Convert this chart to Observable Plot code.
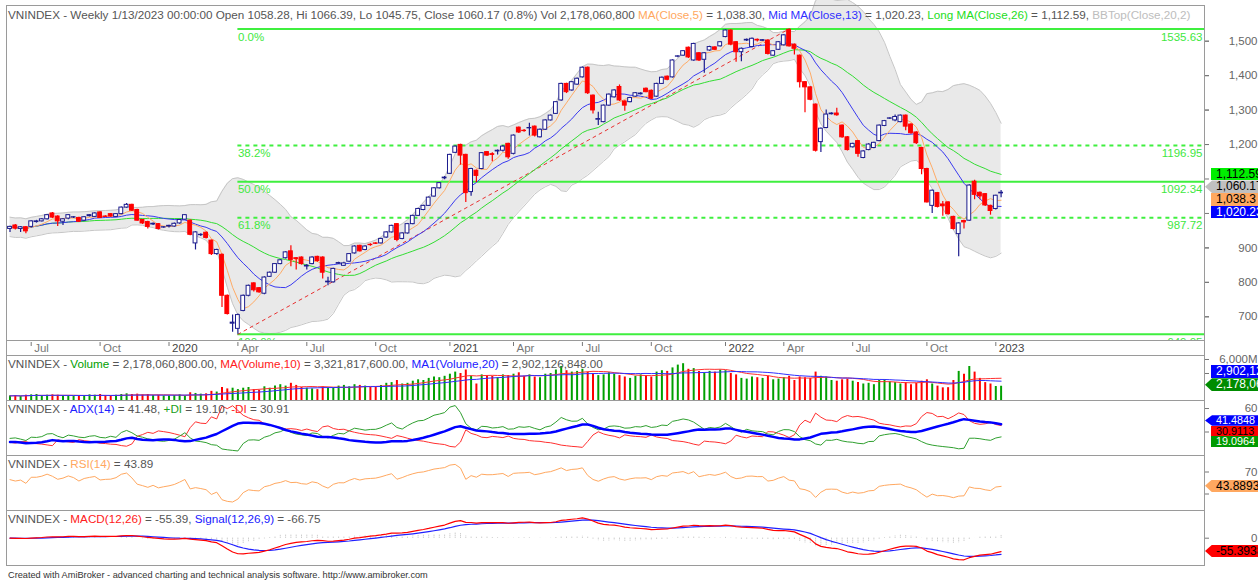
<!DOCTYPE html>
<html><head><meta charset="utf-8">
<script src="https://cdn.jsdelivr.net/npm/d3@7"></script>
<script src="https://cdn.jsdelivr.net/npm/@observablehq/plot@0.6"></script>
<style>
body{margin:0;background:#fff;}
#wrap{position:relative;width:1258px;height:580px;overflow:hidden;background:#fff;font-family:"Liberation Sans",Arial,sans-serif;}
.pnl{position:absolute;left:0;}
.hdr{position:absolute;left:8px;font-size:11.7px;color:#555;white-space:nowrap;line-height:13px;}
.tag{position:absolute;font-size:12px;white-space:nowrap;padding-left:5px;width:60px;}
.arr{clip-path:polygon(0 50%,7px 0,100% 0,100% 100%,7px 100%);padding-left:11px;}
</style></head><body><div id="wrap"></div>
<script>
// ---------- DATA (weekly bars, Jun 7 2019 .. Jan 13 2023) ----------
const open = [955,965,955,960,961,975,977,983,1000,991,976,985,988,987,979,992,990,1003,991,998,990,998,1017,1025,1010,981,975,968,969,959,
962,962,971,982,979,913,937,944,921,882,880,761,680,665,717,761,797,783,767,816,828,853,870,890,870,872,846,853,874,872,800,800,854,848,860,884,906,894,909,913,
913,930,945,969,926,942,969,993,1010,1022,1049,1073,1102,1115,1176,1199,1170,1062,1124,1129,1178,1172,1180,1182,1202,1173,1249,1240,1247,1252,1221,1243,1270,1289,1328,1376,1357,1374,1395,1423,
1342,1272,1265,1313,1337,1367,1325,1323,1339,1346,1362,1356,1339,1376,1397,1395,1455,1458,1481,1444,1465,1446,1473,1482,1485,1512,1531,1497,1468,1502,1483,1504,1501,1502,1458,1475,1488,1533,1490,1458,
1381,1366,1316,1207,1248,1288,1290,1255,1221,1192,1210,1161,1184,1190,1210,1254,1275,1270,1265,1284,1258,1235,1190,1129,1022,1059,1026,1032,990,940,978,979,1092,1060,1056,1022,1013,1058.28];
const close = [961,956,960,948,977,977,983,995,988,977,983,995,989,976,989,995,1000,987,990,991,998,1017,1025,1008,979,971,961,970,955,960,
964,970,981,995,938,945,938,929,882,894,761,708,683,705,761,790,777,771,814,828,853,864,887,865,868,853,848,872,862,828,802,839,856,855,882,904,890,904,908,912,
926,945,964,923,942,969,993,1013,1022,1046,1073,1088,1104,1170,1194,1168,1059,1129,1109,1175,1168,1170,1182,1194,1163,1226,1235,1239,1248,1226,1243,1270,1284,1323,1376,1352,1381,1391,1423,1349,
1299,1274,1313,1345,1357,1328,1313,1335,1349,1348,1352,1333,1376,1394,1388,1444,1456,1471,1453,1492,1444,1465,1483,1475,1497,1531,1490,1468,1478,1504,1507,1502,1503,1463,1471,1497,1517,1485,1478,1381,
1366,1330,1182,1246,1287,1290,1285,1221,1184,1202,1173,1180,1200,1205,1255,1268,1276,1280,1284,1252,1233,1204,1129,1032,1066,1019,1021,998,955,971,974,1081,1054,1049.5,1023.3,1007.09,1051.44,1060.17];
const high = [963,968,962,962,979,980,985,997,1003,993,985,997,991,989,991,997,1002,1005,993,1000,1000,1019,1029,1027,1012,983,977,972,971,962,
966,972,983,997,981,947,941,946,923,896,882,763,705,708,763,792,799,785,816,830,855,866,889,906,872,874,852,874,876,874,815,841,858,858,884,906,908,906,912,915,
928,947,966,971,944,971,995,1015,1024,1048,1075,1090,1107,1172,1196,1201,1172,1131,1126,1177,1180,1176,1184,1197,1204,1228,1251,1244,1262,1254,1245,1272,1286,1325,1378,1378,1383,1393,1425,1425,
1344,1294,1315,1347,1359,1373,1327,1337,1351,1350,1364,1358,1378,1396,1399,1446,1458,1473,1483,1494,1467,1467,1485,1484,1499,1533,1533,1499,1480,1506,1509,1506,1505,1504,1473,1499,1519,1535.63,1492,1460,
1383,1368,1318,1248,1300,1292,1305,1257,1223,1204,1212,1182,1202,1207,1257,1270,1278,1286,1286,1286,1260,1237,1192,1131,1068,1061,1035,1034,992,973,980,1083,1096,1062,1058,1024,1053,1066.39];
const low = [945,952,945,941,958,972,975,981,985,962,965,982,985,974,976,990,988,985,988,989,988,996,1015,1006,977,968,955,965,952,957,
958,960,969,980,935,894,933,926,878,879,727,705,655,649.05,715,758,772,768,764,814,826,851,868,845,836,850,836,851,858,810,790,798,852,846,858,882,888,892,905,910,
911,928,943,918,924,940,967,991,1008,1020,1047,1071,1098,1113,1174,1140,1032,1050,1090,1127,1165,1150,1170,1178,1157,1170,1232,1236,1225,1222,1219,1241,1268,1287,1326,1348,1355,1372,1393,1345,
1289,1255,1263,1311,1335,1325,1297,1321,1337,1344,1350,1330,1337,1374,1385,1393,1452,1456,1450,1442,1441,1407,1471,1473,1483,1510,1487,1439,1440,1499,1481,1498,1499,1460,1456,1473,1486,1483,1460,1364,
1292,1327,1178,1177,1246,1286,1282,1218,1181,1190,1163,1159,1182,1188,1208,1252,1273,1266,1263,1240,1230,1200,1112,1030,1000,1016,992,995,952,874,955,977,1040,1040,1020,995,1010,1045.75];
// weekly volume, millions of shares
const volume = [800,850,750,900,950,1000,850,900,950,900,800,850,750,800,850,950,900,1000,850,800,900,1000,1100,1000,1050,950,1000,850,900,800,
800,850,950,750,1250,1150,1050,1100,1450,1350,2000,1800,1900,1700,1900,2000,1700,1600,2100,1900,2200,2400,2200,2600,2300,2000,1900,1800,1700,2100,1900,2000,2200,2300,2100,2400,2300,2200,2000,2100,
2300,2600,2700,3000,2500,2600,2900,3100,3000,3300,3500,3400,3600,3900,4200,4000,4500,3600,2500,3800,3700,3600,3400,3800,3700,3900,4100,3600,3800,3500,3400,3900,4000,4500,5000,4400,4200,4300,4600,4200,
4000,3700,3800,4100,3900,3700,3500,3300,3600,3800,3700,3500,4200,4400,4300,4800,5200,5400,4600,4700,4300,4100,4300,4200,4500,4400,4000,3800,3300,3200,3500,3400,3300,3600,3100,3200,3400,3600,3000,3500,
3400,3300,4200,3600,3500,3000,2900,3100,3200,2900,2700,2500,2600,2400,3000,3100,2800,2700,2500,2700,2400,2600,2900,3100,2500,2200,1950,1975,3000,4300,3900,5000,4200,3300,2700,2500,2140,2178.06];
// time axis
const tickBar = [4,17,30,43,56,69,83,95,108,121,135,146,159,173,186];
const tickLab = ["Jul","Oct","2020","Apr","Jul","Oct","2021","Apr","Jul","Oct","2022","Apr","Jul","Oct","2023"];
// Fibonacci retracement
const fibPct = ["0.0%","38.2%","50.0%","61.8%","100.0%"];
const fibVal = [1535.63,1196.95,1092.34,987.72,649.05];
const fibDashed = [false,true,false,true,false];
const fibStartBar = 43, fibEndBar = 147;
// axis ticks (labels hidden behind value tags are left out)
const priceTicks = [700,800,900,1000,1100,1200,1300,1400,1500];
const priceLabels = [700,800,900,1200,1300,1400,1500];

// ---------- helpers ----------
const n = close.length;
const sma = (a,p)=>a.map((_,i)=>{const s=Math.max(0,i-p+1);let t=0;for(let k=s;k<=i;k++)t+=a[k];return t/(i-s+1);});
const ema = (a,p)=>{const r=[a[0]];for(let i=1;i<a.length;i++)r.push(r[i-1]+(a[i]-r[i-1])*2/(p+1));return r;};
const wild = (a,p)=>{let s=d3.mean(a.slice(0,p));return a.map(x=>(s=s+(x-s)/p));};
const ma5=sma(close,5), ma13=sma(close,13), ma26=sma(close,26);
const bbHi=[], bbLo=[];
close.forEach((_,i)=>{const w=close.slice(Math.max(0,i-19),Math.max(20,i+1));const m=d3.mean(close.slice(Math.max(0,i-19),i+1));const mw=d3.mean(w);const sd=Math.sqrt(d3.mean(w,v=>(v-mw)**2));bbHi.push(m+2*sd);bbLo.push(m-2*sd);});
const vma10=sma(volume,10), vma20=sma(volume,20);
// ADX
const tr=[],pdm=[],mdm=[];
for(let i=0;i<n;i++){
  if(i===0){tr.push(high[0]-low[0]);pdm.push(0);mdm.push(0);continue;}
  tr.push(Math.max(high[i]-low[i],Math.abs(high[i]-close[i-1]),Math.abs(low[i]-close[i-1])));
  const up=high[i]-high[i-1], dn=low[i-1]-low[i];
  pdm.push(up>dn&&up>0?up:0); mdm.push(dn>up&&dn>0?dn:0);
}
const str=wild(tr,14), spdm=wild(pdm,14), smdm=wild(mdm,14);
const pdi=str.map((t,i)=>100*spdm[i]/t), mdi=str.map((t,i)=>100*smdm[i]/t);
const dx=pdi.map((p,i)=>(p+mdi[i])?100*Math.abs(p-mdi[i])/(p+mdi[i]):0);
const adx=wild(dx,14);
// RSI
const gain=[],loss=[];
for(let i=0;i<n;i++){const d=i?close[i]-close[i-1]:0;gain.push(Math.max(d,0));loss.push(Math.max(-d,0));}
const ag=wild(gain,14), al=wild(loss,14);
const rsi=ag.map((g,i)=>al[i]===0?100:100-100/(1+g/al[i]));
// MACD
const e12=ema(close,12), e26=ema(close,26);
const macd=e12.map((v,i)=>v-e26[i]); const sig=ema(macd,9);

const bars=close.map((c,i)=>({i,o:open[i],h:high[i],l:low[i],c,up:c>=open[i],v:volume[i],
  ma5:ma5[i],ma13:ma13[i],ma26:ma26[i],bbHi:bbHi[i],bbLo:bbLo[i],vma10:vma10[i],vma20:vma20[i],
  adx:adx[i],pdi:pdi[i],mdi:mdi[i],rsi:rsi[i],macd:macd[i],sig:sig[i],hist:macd[i]-sig[i]}));
const fib=fibVal.map((v,k)=>({v,pct:fibPct[k],lab:v.toFixed(2),dashed:fibDashed[k]}));

// ---------- layout ----------
const W=1258, FL=6, FR=1204, step=5.3, firstX=9.5;
const xDomain=[(FL-firstX)/step,(FR-firstX)/step];
const NAVY="#1c1c8e", RED="#ff0000", GRN="#3fef3f", GRID="#9a9a9a";
const wrap=document.getElementById("wrap");
function place(el,top){const d=document.createElement("div");d.className="pnl";d.style.top=top+"px";d.appendChild(el);wrap.appendChild(d);return el;}
function panel(top,height,yDomain,marks){
  const p=Plot.plot({width:W,height,marginLeft:FL,marginRight:W-FR,marginTop:0,marginBottom:0,
    x:{domain:xDomain,axis:null},y:{domain:yDomain,axis:null,label:null},
    style:{background:"transparent",fontSize:"11px",fontFamily:"Liberation Sans, Arial, sans-serif",overflow:"visible"},
    marks});
  place(p,top); return p;
}
function yAxis(ticks,fmt){return Plot.axisY(ticks,{anchor:"right",label:null,tickSize:4,tickPadding:49,textAnchor:"end",tickFormat:fmt,stroke:"#777",fill:"#666",fontSize:11.5});}
function yTicksOnly(ticks){return Plot.axisY(ticks,{anchor:"right",label:null,tickSize:4,tickFormat:()=>"",stroke:"#777"});}
function hdr(top,parts){const d=document.createElement("div");d.className="hdr";d.style.top=top+"px";
  parts.forEach(([t,c])=>{const s=document.createElement("span");s.textContent=t;if(c)s.style.color=c;d.appendChild(s);});wrap.appendChild(d);}
function tags(plot,top,list,h=12.6,shift=0,fs=12){
  const ys=plot.scale("y");
  let items=list.map(t=>({...t,t:top+ys.apply(t.v)}));
  items.sort((a,b)=>a.t-b.t);
  let cl=items.map(d=>({it:[d]}));
  const center=c=>d3.mean(c.it,d=>d.t);
  let merged=true;
  while(merged){merged=false;
    for(let k=0;k<cl.length-1;k++){const a=cl[k],b=cl[k+1];
      const aEnd=center(a)+a.it.length*h/2, bStart=center(b)-b.it.length*h/2;
      if(aEnd>bStart){a.it=a.it.concat(b.it);cl.splice(k+1,1);merged=true;break;}}}
  cl.forEach(c=>{let y=center(c)-c.it.length*h/2+shift;c.it.forEach(d=>{
    const e=document.createElement("div");e.className="tag"+(d.arrow?" arr":"");
    e.style.top=y+"px";e.style.height=h+"px";e.style.lineHeight=h+"px";e.style.fontSize=fs+"px";
    e.style.left=(d.arrow?1205:1211)+"px";e.style.background=d.bg;e.style.color=d.fg;e.textContent=d.text;
    wrap.appendChild(e);y+=h;});});
}

// ---------- main price panel ----------
const main=panel(5,335,[631.2,1603.6],[
  Plot.areaY(bars,{x:"i",y1:"bbLo",y2:"bbHi",fill:"#e9e9e9"}),
  Plot.lineY(bars,{x:"i",y:"bbHi",stroke:"#c6c6c6",strokeWidth:1}),
  Plot.lineY(bars,{x:"i",y:"bbLo",stroke:"#c6c6c6",strokeWidth:1}),
  Plot.ruleY(fib.filter(d=>!d.dashed),{y:"v",x1:fibStartBar,x2:xDomain[1],stroke:GRN,strokeWidth:2}),
  Plot.ruleY(fib.filter(d=>d.dashed),{y:"v",x1:fibStartBar,x2:xDomain[1],stroke:GRN,strokeWidth:2,strokeDasharray:"4,4"}),
  Plot.text(fib,{y:"v",x:fibStartBar,text:"pct",textAnchor:"start",dy:8,fill:"#3ee83e",fontSize:11.5,clip:true}),
  Plot.text(fib,{y:"v",frameAnchor:"right",text:"lab",textAnchor:"end",dx:-2,dy:8,fill:"#3ee83e",fontSize:11.5,clip:true}),
  Plot.line([{i:fibStartBar,v:fibVal[4]},{i:fibEndBar,v:fibVal[0]}],{x:"i",y:"v",stroke:"#e83030",strokeWidth:1,strokeDasharray:"3,4"}),
  Plot.lineY(bars,{x:"i",y:"ma26",stroke:"#33dd33",strokeWidth:1}),
  Plot.lineY(bars,{x:"i",y:"ma13",stroke:"#3a3af0",strokeWidth:1}),
  Plot.lineY(bars,{x:"i",y:"ma5",stroke:"#ffab66",strokeWidth:1}),
  Plot.ruleX(bars,{x:"i",y1:"l",y2:"h",stroke:d=>d.up?NAVY:RED,strokeWidth:1.2}),
  Plot.rect(bars,{x1:d=>d.i-0.36,x2:d=>d.i+0.36,y1:"o",y2:"c",fill:d=>d.up?"#fff":RED,stroke:d=>d.up?NAVY:RED,strokeWidth:1}),
  yTicksOnly(priceTicks),
  yAxis(priceLabels,d3.format(",")),
  Plot.frame({stroke:GRID})
]);
tags(main,5,[
  {v:ma26[n-1],text:"1,112.59",bg:"#00ee00",fg:"#000"},
  {v:close[n-1],text:"1,060.17",bg:"#c0c0c0",fg:"#000",arrow:true},
  {v:ma5[n-1],text:"1,038.3",bg:"#ffa860",fg:"#000"},
  {v:ma13[n-1],text:"1,020.23",bg:"#0000ff",fg:"#fff"}
]);

// ---------- date axis ----------
panel(340,15,[0,15],[
  Plot.ruleX(tickBar,{x:d=>d,y1:13,y2:9,stroke:"#777"}),
  Plot.text(tickBar,{x:d=>d,y:7,text:(d,k)=>tickLab[k],textAnchor:"start",dx:3,fill:(d,k)=>/^\d/.test(tickLab[k])?"#444":"#777",fontWeight:(d,k)=>/^\d/.test(tickLab[k])?"bold":"normal",fontSize:11.5}),
  Plot.frame({stroke:GRID})
]);

// ---------- volume ----------
const volP=panel(355,45,[143,6571],[
  Plot.ruleX(bars,{x:"i",y1:0,y2:"v",stroke:d=>d.up?"#00a000":RED,strokeWidth:2,clip:true}),
  Plot.lineY(bars,{x:"i",y:"vma10",stroke:"#ff3030",strokeWidth:1}),
  Plot.lineY(bars,{x:"i",y:"vma20",stroke:"#3030ff",strokeWidth:1}),
  yTicksOnly([4000]),
  yAxis([6000],d=>d3.format(",")(d)+"M"),
  Plot.frame({stroke:GRID})
]);
tags(volP,355,[
  {v:2902.126848,text:"2,902,126,848",bg:"#0000ff",fg:"#fff"},
  {v:2178.0608,text:"2,178,060,800",bg:"#008c00",fg:"#fff",arrow:true}
],13,-5);

// ---------- ADX ----------
const adxP=panel(400,55,[0,70.24],[
  Plot.lineY(bars,{x:"i",y:"mdi",stroke:"#ff3030",strokeWidth:1}),
  Plot.lineY(bars,{x:"i",y:"pdi",stroke:"#30a030",strokeWidth:1}),
  Plot.lineY(bars,{x:"i",y:"adx",stroke:"#0000ff",strokeWidth:2.5}),
  yTicksOnly([30]),
  yAxis([60],d3.format("d")),
  Plot.frame({stroke:GRID})
]);
tags(adxP,400,[
  {v:41.48,text:"41.4848",bg:"#0000ff",fg:"#fff",arrow:true},
  {v:30.91,text:"30.9113",bg:"#ff0000",fg:"#000"},
  {v:19.10,text:"19.0964",bg:"#009a00",fg:"#fff"}
],10.6,0,10.8);

// ---------- RSI ----------
const rsiP=panel(455,55,[0,100],[
  Plot.lineY(bars,{x:"i",y:"rsi",stroke:"#ffa860",strokeWidth:1}),
  yTicksOnly([30]),
  yAxis([70],d3.format("d")),
  Plot.frame({stroke:GRID})
]);
tags(rsiP,455,[{v:43.89,text:"43.8893",bg:"#ffa860",fg:"#000",arrow:true}]);

// ---------- MACD ----------
const macdP=panel(510,55,[-113.75,115.4],[
  Plot.ruleX(bars,{x:"i",y1:0,y2:"hist",stroke:"#b8b8b8",strokeWidth:1,strokeDasharray:"1,1"}),
  Plot.lineY(bars,{x:"i",y:"sig",stroke:"#2020ff",strokeWidth:1.2}),
  Plot.lineY(bars,{x:"i",y:"macd",stroke:"#ff0000",strokeWidth:1.2}),
  yAxis([0],d3.format("d")),
  Plot.frame({stroke:GRID})
]);
tags(macdP,510,[{v:-55.39,text:"-55.3938",bg:"#ff0000",fg:"#000",arrow:true}]);

// ---------- headers ----------
const G=null;
hdr(8,[["VNINDEX - Weekly 1/13/2023 00:00:00 Open 1058.28, Hi 1066.39, Lo 1045.75, Close 1060.17 (0.8%) Vol 2,178,060,800 ",G],["MA(Close,5)","#ffa860"],[" = 1,038.30, ",G],["Mid MA(Close,13)","#3030ff"],[" = 1,020.23, ",G],["Long MA(Close,26)","#22dd22"],[" = 1,112.59, ",G],["BBTop(Close,20,2)","#bdbdbd"]]);
hdr(357,[["VNINDEX - ",G],["Volume","#00a000"],[" = 2,178,060,800.00, ",G],["MA(Volume,10)","#ff2020"],[" = 3,321,817,600.00, ",G],["MA1(Volume,20)","#2020ff"],[" = 2,902,126,848.00",G]]);
hdr(402,[["VNINDEX - ",G],["ADX(14)","#2020ff"],[" = 41.48, ",G],["+DI","#20a020"],[" = 19.10, ",G],["-DI","#ff2020"],[" = 30.91",G]]);
hdr(457,[["VNINDEX - ",G],["RSI(14)","#ffa860"],[" = 43.89",G]]);
hdr(512,[["VNINDEX - ",G],["MACD(12,26)","#ff2020"],[" = -55.39, ",G],["Signal(12,26,9)","#2020ff"],[" = -66.75",G]]);
const foot=document.createElement("div");foot.className="hdr";foot.style.top="569px";foot.style.fontSize="9.2px";foot.style.color="#333";
foot.textContent="Created with AmiBroker - advanced charting and technical analysis software. http://www.amibroker.com";wrap.appendChild(foot);
</script></body></html>
